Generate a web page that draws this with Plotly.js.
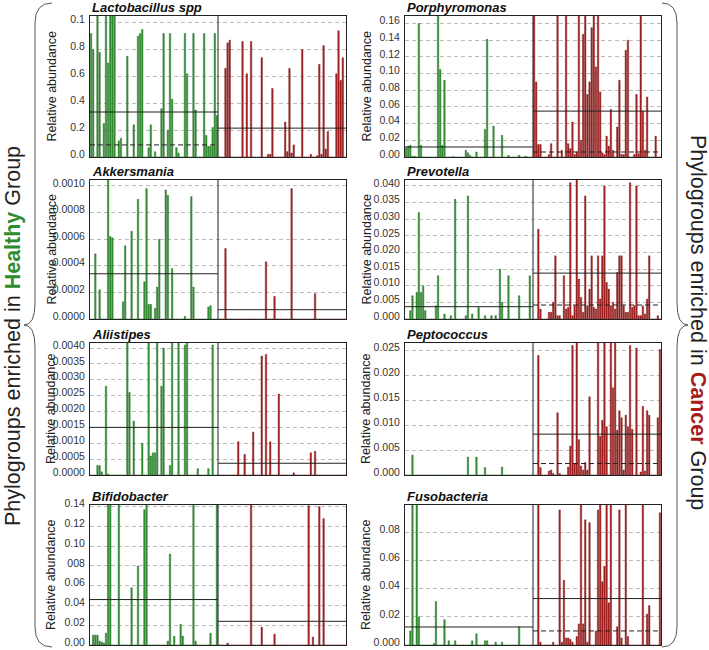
<!DOCTYPE html>
<html><head><meta charset="utf-8">
<script src="https://cdn.plot.ly/plotly-3.0.1.min.js"></script>
<style>html,body{margin:0;padding:0;background:#fff}#chart{width:709px;height:650px}</style>
</head><body><div id="chart"></div>
<script>
// ---------------- DATA ----------------
const panelNames = ['Lactobacillus spp','Porphyromonas','Akkersmania','Prevotella','Aliistipes','Peptococcus','Bifidobacter','Fusobacteria'];

const lactoHealthy = [
0.92,0.80,0,1.1,0.78,0,0.25,1.1,0.70,1.1,
1.1,1.1,0,0.12,0.14,0,0,0.75,0,0,
0.24,0,0.90,0.92,0.95,0,0,0.07,0.24,0,
0.04,0,0,0.36,0.92,0,0.20,0.92,0.43,0,
0.07,0.03,0,0,0.92,0.62,0,0,0.92,0.35,
0,0,0,0.92,0.16,0.08,0.08,0.22,0.92,0.31];
const lactoCancer = [
0,0,0,0.66,0.85,0.87,0,0,0,0,
0,0.86,0,0.62,0,0.86,0,0,0,0,
0.74,0,0,0.02,0.02,0.51,0,0,0,0,
0,0.26,0.04,0.66,0.03,0.09,0,0,0,0.80,
0,0,0,0.02,0,0,0.01,0.69,0.02,0.83,
0.06,0.19,0,0,0,0.62,0.94,0.57,0.74,0];

const porphHealthy = [
0.011,0.013,0.014,0.001,0.001,0,0.160,0.014,0,0,
0,0,0,0,0,0.18,0.105,0.014,0.092,0,
0,0,0.0006,0,0,0,0,0,0.008,0.005,
0.002,0,0,0.006,0,0,0,0.033,0.141,0,
0,0.037,0,0,0,0.026,0,0,0.002,0,
0,0,0,0.002,0,0,0.001,0,0,0];
const porphCancer = [
0.18,0.09,0.015,0.015,0,0,0,0.003,0.016,0,
0,0.18,0,0.008,0,0.18,0.016,0.010,0.042,0.003,
0.006,0.18,0.020,0.147,0.18,0.075,0.090,0.155,0.18,0.108,
0.18,0.078,0.005,0.003,0.025,0.013,0.057,0.008,0,0.036,
0.092,0.003,0.003,0.128,0.140,0,0,0.003,0.075,0.004,
0.18,0.055,0.008,0.072,0,0,0,0.025,0,0];

const akkerHealthy = [
0,0,0.00049,0,0.00022,0,0,0,0.00105,0.00062,
0.00061,0,0,0,0,0.00013,0.00055,0,0,0.00066,
0,0,0.0009,0,0,0.00028,0.00098,0.00011,0.00011,0,
0.00008,0.00024,0.0006,0,0,0.00097,0.00093,0,0.00038,0,
0,0,0,0,0.00002,0,0,0.00092,0.00024,0,
0,0,0,0,0,0.00009,0.0001,0,0,0];
const akkerCancer = [
0,0,0,0.00053,0,0,0,0,0,0,
0,0,0,0,0,0,0,0,0,0,
0,0,0.00043,0,0,0,0.00017,0,0,0,
0,0,0,0,0.00098,0,0,0,0,0,
0,0,0,0,0,0.00019,0,0,0,0,
0,0,0,0,0,0,0,0,0,0];

const prevoHealthy = [
0,0,0.0025,0.007,0,0.008,0.032,0.008,0.010,0.0025,
0,0,0,0,0.004,0.013,0,0,0.0015,0,
0,0.001,0,0.036,0,0,0,0,0.001,0.037,
0,0.0015,0,0,0.0035,0,0,0.001,0,0,
0.001,0,0.001,0,0.015,0.005,0,0,0.013,0,
0,0,0,0.007,0,0,0,0,0.013,0];
const prevoCancer = [
0,0,0.027,0.003,0,0,0,0.002,0.002,0.005,
0.019,0.001,0.001,0,0.013,0.003,0.0035,0.041,0.001,0.004,
0.042,0.012,0.0065,0.002,0.037,0.004,0.009,0.019,0.0035,0.003,
0.019,0.006,0.019,0.040,0.011,0.009,0.004,0.005,0.003,0.014,
0.019,0.019,0.004,0.002,0.002,0.041,0.0035,0.004,0.040,0.001,
0.001,0.004,0.0015,0.006,0.019,0,0,0,0.001,0];

const aliisHealthy = [
0,0,0,0.0003,0.0003,0.0001,0,0.0028,0.00003,0,
0,0,0,0,0,0,0,0.0045,0.0026,0,
0.0017,0,0,0,0.001,0,0,0.0045,0.0006,0.0007,
0.0007,0.0045,0,0.0028,0.004,0,0,0.0003,0.0045,0,
0,0.0045,0,0,0.0041,0.0045,0,0,0,0,
0.0002,0,0,0,0,0.0002,0,0.0041,0,0];
const aliisCancer = [
0,0,0,0,0,0,0,0,0,0.00105,
0,0,0.00065,0,0,0,0.00135,0,0,0,
0.00375,0,0.0038,0,0.00105,0,0,0,0.00255,0,
0,0,0,0,0,0.00007,0,0,0,0,
0,0,0,0.0007,0,0.00075,0,0,0,0,
0,0,0,0,0,0,0,0,0,0];

const peptoHealthy = [
0,0,0,0.004,0,0,0,0,0,0,
0,0,0,0,0,0,0,0,0,0,
0,0,0,0,0,0,0,0,0,0.0036,
0,0,0,0.0036,0,0,0,0.0015,0,0,
0,0,0,0,0,0.0016,0,0,0,0,
0,0,0,0,0,0,0,0,0,0];
const peptoCancer = [
0,0,0.024,0.0015,0,0,0,0.0008,0.001,0.0003,
0,0.0125,0.0003,0,0,0,0.0016,0.0058,0.026,0.0023,
0.03,0.0071,0.0018,0.001,0.0025,0.001,0.0157,0,0,0,
0.03,0.0078,0.011,0.03,0.0097,0,0.03,0.0175,0.03,0.009,
0.0129,0.0115,0.001,0.012,0.0097,0.026,0.0092,0,0.0255,0,
0.0006,0.0138,0.0008,0.0129,0.012,0,0,0,0.0115,0.0252];

const bifidoHealthy = [
0,0.01,0.01,0.01,0.004,0.003,0.002,0.012,0.15,0.15,
0,0,0,0.15,0,0,0,0,0,0.058,
0,0,0.080,0,0,0.137,0.15,0,0,0,
0,0,0,0,0,0,0.004,0.092,0,0.009,
0,0,0.021,0.009,0,0,0,0,0.15,0.004,
0,0,0,0,0,0,0.012,0,0,0.15];
const bifidoCancer = [
0,0,0,0,0.002,0,0,0,0,0,
0,0,0,0,0,0.15,0,0,0,0,
0.018,0,0,0,0,0,0.011,0,0,0,
0,0,0,0,0,0,0,0,0,0,
0,0,0.141,0,0.008,0,0,0.14,0,0.128,
0,0,0,0,0,0,0,0,0,0];

const fusoHealthy = [
0,0,0.010,0.11,0,0.11,0.020,0,0,0,
0,0,0,0.001,0.031,0,0,0,0.018,0,
0.003,0,0,0.003,0,0,0,0,0,0,
0,0.003,0,0.008,0,0,0,0.003,0.003,0,
0,0,0.002,0,0,0.002,0,0,0,0,
0,0,0,0.013,0,0,0,0,0,0];
const fusoCancer = [
0,0,0.11,0.002,0,0,0,0,0,0.002,
0,0,0.096,0.002,0.046,0.005,0.005,0.004,0.002,0,
0.006,0.015,0.11,0.015,0.089,0.002,0.087,0,0,0.010,
0.096,0.11,0.045,0.056,0.11,0.03,0.11,0,0,0.013,
0.096,0.005,0,0.11,0.006,0,0,0,0,0,
0,0.11,0,0.022,0.028,0,0,0,0,0.094];

// group summary lines (solid = mean, dashed = median)
const healthyMean   = [0.335, 0.012, 0.00034, 0.0037, 0.0015, null, 0.046, 0.0128];
const healthyMedian = [0.09, null, null, null, null, null, null, null];
const cancerMean    = [0.215, 0.055, 0.00007, 0.0138, 0.00037, 0.0082, 0.024, 0.033];
const cancerMedian  = [null, 0.006, null, 0.0042, null, 0.0023, null, 0.010];

// y tick values and labels per panel
const tickVals = [
  [0,0.2,0.4,0.6,0.8,1.0],
  [0,0.02,0.04,0.06,0.08,0.10,0.12,0.14,0.16],
  [0,0.0002,0.0004,0.0006,0.0008,0.0010],
  [0,0.005,0.010,0.015,0.020,0.025,0.030,0.035,0.040],
  [0,0.0005,0.0010,0.0015,0.0020,0.0025,0.0030,0.0035,0.0040],
  [0,0.005,0.010,0.015,0.020,0.025],
  [0,0.02,0.04,0.06,0.08,0.10,0.12,0.14],
  [0,0.02,0.04,0.06,0.08]
];
const tickText = [
  ['0.0','0.2','0.4','0.6','0.8','0.1'],
  ['0.00','0.02','0.04','0.06','0.08','0.10','0.12','0.14','0.16'],
  ['0.0000','0.0002','0.0004','0.0006','0.0008','0.0010'],
  ['0.000','0.005','0.010','0.015','0.020','0.025','0.030','0.035','0.040'],
  ['0.0000','0.0005','0.0010','0.0015','0.0020','0.0025','0.0030','0.0035','0.0040'],
  ['0.000','0.005','0.010','0.015','0.020','0.025'],
  ['0.00','0.02','0.04','0.06','008','0.10','0.12','0.14'],
  ['0.000','0.02','0.04','0.06','0.08']
];
const yTop = [1.05, 0.169, 0.001045, 0.0418, 0.00416, 0.0265, 0.1417, 0.0995];

const healthySeries = [lactoHealthy, porphHealthy, akkerHealthy, prevoHealthy, aliisHealthy, peptoHealthy, bifidoHealthy, fusoHealthy];
const cancerSeries  = [lactoCancer, porphCancer, akkerCancer, prevoCancer, aliisCancer, peptoCancer, bifidoCancer, fusoCancer];

// ---------------- LAYOUT ----------------
const W = 709, H = 650;
const px = x => x / W, py = y => 1 - y / H;
const colPx = [[90, 346], [405, 661]];
const rowPx = [[16, 157], [180, 319], [343, 475], [505, 645]];
const FONT = 'Liberation Sans, Arial, Helvetica, sans-serif';
const GREEN = '#3a943a', GREEN_EDGE = '#1d661d';
const RED = '#a82626', RED_EDGE = '#761010';

const traces = [];
const layout = {
  width: W, height: H,
  margin: {l: 0, r: 0, t: 0, b: 0},
  paper_bgcolor: '#fff', plot_bgcolor: '#fff',
  barmode: 'overlay', bargap: 0.3,
  showlegend: false,
  font: {family: FONT, color: '#222'},
  shapes: [], annotations: []
};

panelNames.forEach((name, i) => {
  const s = i === 0 ? '' : String(i + 1);
  const col = i % 2, row = Math.floor(i / 2);
  const hv = healthySeries[i], cv = cancerSeries[i];
  const nH = hv.length, nC = cv.length;
  const hx = hv.map((_, k) => k);
  const cx = cv.map((_, k) => k + nH);
  traces.push({type: 'bar', x: hx, y: hv, xaxis: 'x' + s, yaxis: 'y' + s,
    marker: {color: GREEN, line: {color: GREEN_EDGE, width: 0.4}}, hoverinfo: 'none'});
  traces.push({type: 'bar', x: cx, y: cv, xaxis: 'x' + s, yaxis: 'y' + s,
    marker: {color: RED, line: {color: RED_EDGE, width: 0.4}}, hoverinfo: 'none'});
  const addLine = (x0, x1, v, dash) => {
    if (v === null) return;
    traces.push({type: 'scatter', mode: 'lines', x: [x0, x1], y: [v, v], xaxis: 'x' + s, yaxis: 'y' + s,
      line: {color: '#222', width: 1, dash: dash}, hoverinfo: 'none'});
  };
  addLine(-0.5, nH - 0.5, healthyMean[i], 'solid');
  addLine(-0.5, nH - 0.5, healthyMedian[i], '5px,3px');
  addLine(nH - 0.5, nH + nC - 0.5, cancerMean[i], 'solid');
  addLine(nH - 0.5, nH + nC - 0.5, cancerMedian[i], '5px,3px');

  const xd = [px(colPx[col][0]), px(colPx[col][1])];
  const yd = [py(rowPx[row][1]), py(rowPx[row][0])];
  layout['xaxis' + s] = {domain: xd, anchor: 'y' + s, range: [-0.5, nH + nC - 0.5],
    showgrid: false, zeroline: false, showticklabels: false, ticks: '',
    showline: true, mirror: true, linecolor: '#222', linewidth: 1, fixedrange: true};
  layout['yaxis' + s] = {domain: yd, anchor: 'x' + s, range: [0, yTop[i]],
    tickmode: 'array', tickvals: tickVals[i], ticktext: tickText[i],
    showgrid: true, gridcolor: '#bdbdbd', gridwidth: 1, griddash: '4px,3px',
    zeroline: false, showline: true, mirror: true, linecolor: '#222', linewidth: 1,
    ticks: '', ticklabelstandoff: 2, ticklabelshift: -3, ticklabeloverflow: 'allow',
    tickfont: {size: 10.5, color: '#333', family: FONT}, fixedrange: true};
  layout.shapes.push({type: 'line', xref: 'x' + s, yref: 'y' + s + ' domain',
    x0: nH - 0.5, x1: nH - 0.5, y0: 0, y1: 1, line: {color: '#222', width: 1}});
  layout.annotations.push({xref: 'paper', yref: 'paper', x: xd[0], y: yd[1],
    xanchor: 'left', yanchor: 'bottom', showarrow: false, yshift: -1,
    text: '<b><i>' + name + '</i></b>', font: {size: 13, color: '#111', family: FONT}});
  layout.annotations.push({xref: 'paper', yref: 'paper', x: px(col === 0 ? 51 : 366), y: (yd[0] + yd[1]) / 2,
    xanchor: 'center', yanchor: 'middle', showarrow: false, textangle: -90,
    text: 'Relative abundance', font: {size: 12.5, color: '#222', family: FONT}});
});

// side labels
layout.annotations.push({xref: 'paper', yref: 'paper', x: px(13), y: py(336), xanchor: 'center', yanchor: 'middle',
  showarrow: false, textangle: -90,
  text: 'Phylogroups enriched in <b><span style="color:#2e8b2e">Healthy</span></b> Group',
  font: {size: 21.5, color: '#222', family: FONT}});
layout.annotations.push({xref: 'paper', yref: 'paper', x: px(698), y: py(322), xanchor: 'center', yanchor: 'middle',
  showarrow: false, textangle: 90,
  text: 'Phylogroups enriched in <b><span style="color:#a51c1c">Cancer</span></b> Group',
  font: {size: 21.5, color: '#222', family: FONT}});

// braces
function bracePath(endX, spineX, tipX, y0, ym, y1) {
  const P = (x, y) => px(x).toFixed(5) + ',' + py(y).toFixed(5);
  return 'M' + P(endX, y0) + ' Q' + P(spineX, y0) + ' ' + P(spineX, y0 + 20) +
    ' L' + P(spineX, ym - 22) + ' Q' + P(spineX, ym) + ' ' + P(tipX, ym) +
    ' Q' + P(spineX, ym) + ' ' + P(spineX, ym + 22) +
    ' L' + P(spineX, y1 - 20) + ' Q' + P(spineX, y1) + ' ' + P(endX, y1);
}
layout.shapes.push({type: 'path', xref: 'paper', yref: 'paper', path: bracePath(52, 35, 24, 3, 325, 647),
  line: {color: '#555', width: 1}});
layout.shapes.push({type: 'path', xref: 'paper', yref: 'paper', path: bracePath(662, 677, 688, 3, 325, 647),
  line: {color: '#555', width: 1}});

Plotly.newPlot('chart', traces, layout, {displayModeBar: false, staticPlot: true});
</script>
</body></html>
